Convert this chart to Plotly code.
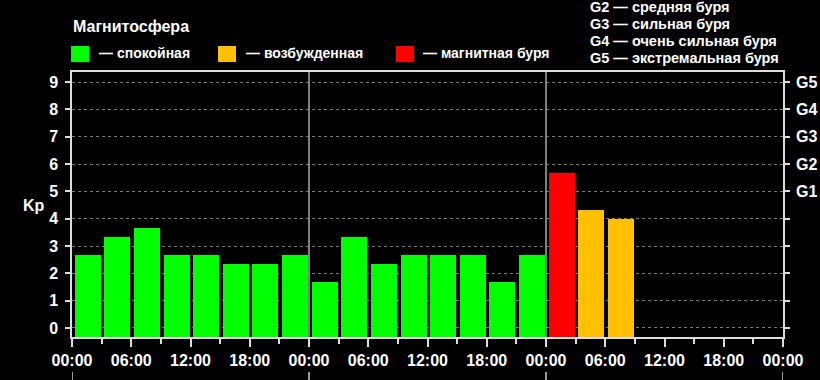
import plotly.graph_objects as go

# ---- data ----
kp_values = [2.67, 3.33, 3.67, 2.67, 2.67, 2.33, 2.33, 2.67,
             1.67, 3.33, 2.33, 2.67, 2.67, 2.67, 1.67, 2.67,
             5.67, 4.33, 4.00]
slot_hours = [3 * i for i in range(len(kp_values))]  # start hour of each 3-h slot
x_tick_vals = list(range(0, 73, 6))
x_tick_text = ["00:00", "06:00", "12:00", "18:00"] * 3 + ["00:00"]
y_tick_vals = list(range(0, 10))
g_tick_text = ["", "", "", "", "", "G1", "G2", "G3", "G4", "G5"]
day_bounds = [0, 24, 48, 72]
legend_labels = ["— спокойная", "— возбужденная", "— магнитная буря"]
storm_labels = ["G2 — средняя буря", "G3 — сильная буря", "G4 — очень сильная буря", "G5 — экстремальная буря"]

GREEN, ORANGE, RED = "#00ff00", "#ffc000", "#ff0000"
def level_color(v):
    if v >= 5:
        return RED
    if v >= 4:
        return ORANGE
    return GREEN

Y_MIN, Y_MAX = -0.33, 9.37

# pixel helpers for layout decorations
PL, PR, PT, PB = 72, 783, 72, 337
def px(x):
    return (x - PL) / (PR - PL)
def py(y):
    return (PB - y) / (PB - PT)

FONT = "Liberation Sans, Arial, sans-serif"

fig = go.Figure()
fig.add_trace(go.Bar(
    x=slot_hours,
    y=[v - Y_MIN for v in kp_values],
    base=Y_MIN,
    offset=0.27,
    width=2.63,
    marker=dict(color=[level_color(v) for v in kp_values], line=dict(width=0)),
    showlegend=False,
    hoverinfo="skip",
))
# invisible trace to activate right axis
fig.add_trace(go.Scatter(x=[0], y=[0], yaxis="y2", mode="markers",
                         marker=dict(opacity=0), showlegend=False, hoverinfo="skip"))

axis_font = dict(family=FONT, size=16, color="white", weight="bold")

fig.update_layout(
    width=820, height=380,
    margin=dict(l=PL, r=820 - PR, t=PT, b=380 - PB, autoexpand=False),
    paper_bgcolor="black", plot_bgcolor="black",
    bargap=0,
    xaxis=dict(
        range=[0, 72], tickvals=x_tick_vals, ticktext=x_tick_text,
        ticks="outside", ticklen=8, tickwidth=1.5, tickcolor="#dddddd",
        minor=dict(tickvals=list(range(3, 72, 6)), ticks="outside", ticklen=5,
                   tickwidth=1.5, tickcolor="#dddddd"),
        showgrid=False, zeroline=False, automargin=False,
        showline=True, linecolor="#dddddd", linewidth=1.5, mirror=True,
        tickfont=axis_font,
    ),
    yaxis=dict(
        range=[Y_MIN, Y_MAX], tickvals=y_tick_vals, automargin=False,
        ticks="outside", ticklen=5, tickwidth=1.5, tickcolor="#dddddd",
        showgrid=True, gridcolor="#777777", griddash="dot", gridwidth=1,
        zeroline=False, showline=True, linecolor="#dddddd", linewidth=1.5,
        tickfont=axis_font, ticklabelstandoff=4,
    ),
    yaxis2=dict(
        range=[Y_MIN, Y_MAX], tickvals=y_tick_vals, ticktext=g_tick_text,
        overlaying="y", side="right", automargin=False,
        ticks="outside", ticklen=5, tickwidth=1.5, tickcolor="#dddddd",
        showgrid=False, zeroline=False, showline=True, linecolor="#dddddd", linewidth=1.5,
        tickfont=axis_font, ticklabelstandoff=3,
    ),
)

shapes = []
# day separators
for d in day_bounds[1:-1]:
    shapes.append(dict(type="line", xref="x", yref="paper", x0=d, x1=d, y0=0, y1=1,
                       line=dict(color="#aaaaaa", width=1.5), layer="above"))
# day ticks below labels
for d in day_bounds:
    shapes.append(dict(type="line", xref="x", yref="paper", x0=d, x1=d,
                       y0=py(372), y1=py(384), line=dict(color="#cccccc", width=1.5)))
# legend squares
for x0, c in zip([71, 218, 396], [GREEN, ORANGE, RED]):
    shapes.append(dict(type="rect", xref="paper", yref="paper",
                       x0=px(x0), x1=px(x0 + 18), y0=py(62), y1=py(46),
                       fillcolor=c, line=dict(width=0)))
fig.update_layout(shapes=shapes)

ann = []
ann.append(dict(text="Kp", xref="paper", yref="paper", x=px(34), y=py(205),
                xanchor="center", yanchor="middle", showarrow=False,
                font=dict(family=FONT, size=16, color="white", weight="bold")))
ann.append(dict(text="Магнитосфера", xref="paper", yref="paper", x=px(71), y=py(26),
                xanchor="left", yanchor="middle", showarrow=False,
                font=dict(family=FONT, size=16, color="white", weight="bold")))
for lx, t in zip([97, 244, 421], legend_labels):
    ann.append(dict(text=t, xref="paper", yref="paper", x=px(lx), y=py(53),
                    xanchor="left", yanchor="middle", showarrow=False,
                    font=dict(family=FONT, size=14, color="white", weight="bold")))
for i, t in enumerate(storm_labels):
    ann.append(dict(text=t, xref="paper", yref="paper", x=px(588), y=py(7 + 17.1 * i),
                    xanchor="left", yanchor="middle", showarrow=False,
                    font=dict(family=FONT, size=14.5, color="white", weight="bold")))
fig.update_layout(annotations=ann)

fig.write_html("out.html", config={"displayModeBar": False},
               post_script="document.body.style.margin='0';document.body.style.overflow='hidden';")
